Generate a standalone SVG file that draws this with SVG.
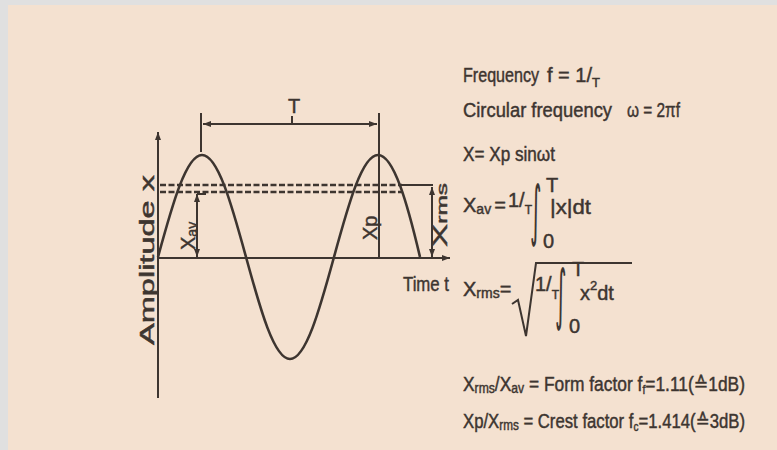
<svg xmlns="http://www.w3.org/2000/svg" width="777" height="450" viewBox="0 0 777 450">
<defs>
<style>
.ln{fill:none;stroke:#3d3530;stroke-width:2}
.wave{fill:none;stroke:#3d3530;stroke-width:2.6;stroke-linejoin:round}
.dash{fill:none;stroke:#3d3530;stroke-width:2.6;stroke-dasharray:6 2.5}
.t{font-family:"Liberation Sans","DejaVu Sans",sans-serif;font-size:20px;fill:#3d3530;stroke:#3d3530;stroke-width:0.45}
.int{font-family:"DejaVu Sans",sans-serif;font-size:40px;fill:#3d3530}
</style>
<marker id="ar" viewBox="0 0 8 6" refX="8" refY="3" markerWidth="8" markerHeight="6" markerUnits="userSpaceOnUse" orient="auto-start-reverse">
<path d="M0,0 L8,3 L0,6 z" fill="#3d3530"/>
</marker>
</defs>
<rect x="0" y="0" width="777" height="450" fill="#e0e0e0"/>
<rect x="8" y="5" width="769" height="445" fill="#f4e1d0"/>

<g id="axes">
<line class="ln" x1="158" y1="398" x2="158" y2="132" marker-end="url(#ar)"/>
<line class="ln" x1="158" y1="258" x2="450" y2="258" marker-end="url(#ar)"/>
</g>

<g id="wave">
<path class="wave" d="M158,257 C172.3,204.7 186.1,155 202,155 C217.9,155 231.7,204.7 246,257 C260.3,309.3 274.1,359 290,359 C305.9,359 319.7,309.3 334,257 C348.3,204.7 362.1,155 378,155 C393.9,155 407.7,204.7 420,257"/>
</g>

<g id="connectors">
<line class="ln" x1="201" y1="113" x2="201" y2="152"/>
<line class="ln" x1="379" y1="113" x2="379" y2="258"/>
<line class="ln" x1="203" y1="124" x2="377" y2="124" marker-start="url(#ar)" marker-end="url(#ar)"/>
<line class="ln" x1="292" y1="116" x2="292" y2="124"/>
<line class="dash" x1="160" y1="185" x2="402" y2="185"/>
<line class="dash" x1="160" y1="192" x2="402" y2="192"/>
<line class="ln" x1="402" y1="185" x2="433" y2="185" stroke-width="1.6"/>
<line class="ln" x1="432" y1="187" x2="432" y2="257" marker-start="url(#ar)" marker-end="url(#ar)" stroke-width="1.6"/>
<line class="ln" x1="197" y1="194" x2="197" y2="257" marker-start="url(#ar)" marker-end="url(#ar)" stroke-width="1.6"/>
<line class="ln" x1="197" y1="194" x2="206" y2="194" stroke-width="1.6"/>
</g>

<g id="labels-left">
<text class="t" font-size="13" x="288" y="113">T</text>
<text class="t" font-size="18" transform="translate(154,345) rotate(-90)" textLength="170" lengthAdjust="spacingAndGlyphs">Amplitude x</text>
<text class="t" font-size="17" transform="translate(195,250) rotate(-90)">X<tspan font-size="14" dy="2">av</tspan></text>
<text class="t" font-size="17" transform="translate(377,240) rotate(-90)">Xp</text>
<text class="t" font-size="17" transform="translate(447,247) rotate(-90)" textLength="64" lengthAdjust="spacingAndGlyphs">X<tspan font-size="14">rms</tspan></text>
<text class="t" font-size="20" x="403" y="291" textLength="46" lengthAdjust="spacingAndGlyphs">Time t</text>
</g>

<g id="formulas">
<text class="t" x="463" y="82" textLength="76" lengthAdjust="spacingAndGlyphs">Frequency</text>
<text class="t" x="547" y="82">f = 1/<tspan font-size="13" dy="5">T</tspan></text>
<text class="t" x="463" y="117" textLength="149" lengthAdjust="spacingAndGlyphs">Circular frequency</text>
<text class="t" x="627" y="117" textLength="53" lengthAdjust="spacingAndGlyphs">ω = 2πf</text>
<text class="t" x="463" y="161" textLength="92" lengthAdjust="spacingAndGlyphs">X= Xp sinωt</text>

<text class="t" x="463" y="212">X<tspan font-size="14" dy="2">av</tspan><tspan dy="-2" dx="3">=</tspan></text>
<text class="t" x="508" y="207" font-size="13">1/<tspan font-size="12" dy="7">T</tspan></text>
<text class="int" transform="translate(530,233) scale(0.55,1.65)">∫</text>
<text class="t" x="546" y="192" font-size="12">T</text>
<text class="t" x="543" y="248" font-size="13">0</text>
<text class="t" x="550" y="214" textLength="41" lengthAdjust="spacingAndGlyphs">|x|dt</text>

<text class="t" x="463" y="296">X<tspan font-size="14" dy="2">rms</tspan><tspan dy="-2">=</tspan></text>
<path class="ln" d="M512,304 L518,300 L526,336 L536,263 H632"/>
<text class="t" x="535" y="291" font-size="13">1/<tspan font-size="12" dy="8">T</tspan></text>
<text class="int" transform="translate(555,317) scale(0.55,1.65)">∫</text>
<text class="t" x="572" y="276" font-size="12">T</text>
<text class="t" x="569" y="333" font-size="13">0</text>
<text class="t" x="580" y="300">x<tspan font-size="13" dy="-10">2</tspan><tspan dy="10">dt</tspan></text>

<text class="t" x="463" y="391" textLength="282" lengthAdjust="spacingAndGlyphs">X<tspan font-size="14" dy="2">rms</tspan><tspan dy="-2">/X</tspan><tspan font-size="14" dy="2">av</tspan><tspan dy="-2"> = Form factor  f</tspan><tspan font-size="12" dy="3">f</tspan><tspan dy="-3">=1.11(≙1dB)</tspan></text>
<text class="t" x="463" y="428" textLength="282" lengthAdjust="spacingAndGlyphs">Xp/X<tspan font-size="14" dy="2">rms</tspan><tspan dy="-2"> = Crest factor  f</tspan><tspan font-size="12" dy="3">c</tspan><tspan dy="-3">=1.414(≙3dB)</tspan></text>
</g>
</svg>
